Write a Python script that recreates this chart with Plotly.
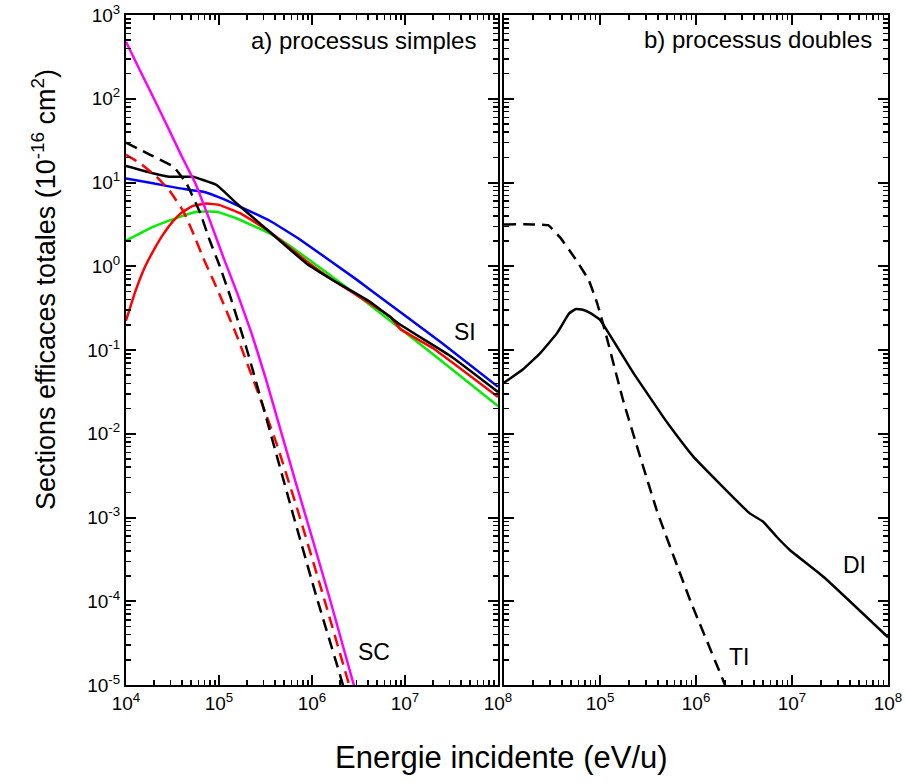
import plotly.graph_objects as go

# ---------------- data (energies in eV/u, cross sections in 1e-16 cm^2) ----------------
# a) single processes
sc_mag_E = [1e4, 1.41e4, 2.0e4, 2.82e4, 3.98e4, 5.62e4, 7.94e4, 1.12e5, 1.58e5, 2.24e5, 3.16e5, 4.53e5, 6.76e5, 1.02e6, 1.58e6, 2.95e6]
sc_mag_S = [479, 219, 100, 45.7, 20.4, 9.55, 3.55, 1.26, 0.468, 0.158, 0.0468, 0.0117, 0.00251, 0.000537, 0.0001, 0.0000083]

sc_blk_E = [1e4, 1.82e4, 3.24e4, 4.47e4, 6.31e4, 7.94e4, 1.02e5, 1.32e5, 2.0e5, 3.55e5, 6.31e5, 1.12e6, 2.0e6, 2.19e6]
sc_blk_S = [29.9, 21.4, 15.5, 9.77, 4.27, 2.04, 1.0, 0.437, 0.1, 0.0105, 0.00105, 0.000112, 0.0000132, 0.0000093]

sc_red_E = [1e4, 1.41e4, 2.14e4, 2.95e4, 4.17e4, 5.25e4, 6.76e4, 8.71e4, 1.12e5, 1.58e5, 2.24e5, 3.16e5, 4.17e5, 7.41e5, 1.35e6, 2.51e6]
sc_red_S = [21.4, 17.0, 11.7, 7.94, 4.47, 2.51, 1.26, 0.676, 0.355, 0.141, 0.0501, 0.0178, 0.00759, 0.001, 0.000107, 0.00001]

si_blk_E = [1e4, 1.95e4, 2.95e4, 5.25e4, 6.76e4, 9.44e4, 1.55e5, 2.75e5, 8.71e5, 1.70e6, 4.17e6, 8.91e6, 3.16e7, 1e8]
si_blk_S = [15.8, 12.9, 11.7, 11.7, 10.7, 9.33, 5.62, 3.24, 1.08, 0.676, 0.380, 0.200, 0.0832, 0.0316]

si_blu_E = [1e4, 1.95e4, 3.80e4, 6.76e4, 1.02e5, 1.70e5, 3.55e5, 7.41e5, 3.02e6, 5.89e6, 2.51e7, 1e8]
si_blu_S = [11.2, 9.77, 8.51, 7.76, 6.61, 5.13, 3.47, 2.09, 0.692, 0.398, 0.120, 0.0363]

si_red_E = [1e4, 1.26e4, 1.58e4, 2.0e4, 2.51e4, 3.16e4, 3.98e4, 5.25e4, 7.41e4, 1.02e5, 1.70e5, 3.55e5, 8.71e5, 1.70e6, 3.89e6, 6.92e6, 8.91e6, 2.0e7, 1e8]
si_red_S = [0.224, 0.501, 0.955, 1.58, 2.40, 3.39, 4.37, 5.25, 5.62, 5.37, 4.27, 2.57, 1.15, 0.676, 0.380, 0.251, 0.178, 0.105, 0.0275]

si_grn_E = [1e4, 1.95e4, 3.80e4, 5.75e4, 9.44e4, 1.55e5, 3.55e5, 5.37e5, 1.26e6, 3.55e6, 2.0e7, 1e8]
si_grn_S = [2.02, 2.95, 3.89, 4.47, 4.47, 3.72, 2.45, 1.86, 0.933, 0.398, 0.0891, 0.0214]

# b) double processes
ti_E = [1e4, 2.0e4, 2.88e4, 3.80e4, 5.50e4, 7.59e4, 9.33e4, 1.12e5, 1.74e5, 3.89e5, 8.71e5, 1.91e6, 2.04e6]
ti_S = [3.16, 3.16, 3.09, 2.24, 1.24, 0.692, 0.363, 0.174, 0.0251, 0.00123, 0.000102, 0.0000115, 0.0000095]

di_E = [1e4, 1.58e4, 2.37e4, 3.55e4, 4.79e4, 5.62e4, 6.61e4, 7.94e4, 1e5, 2.24e5, 4.57e5, 5.37e5, 9.33e5, 1.78e6, 3.63e6, 5.01e6, 6.92e6, 9.55e6, 2.14e7, 1e8]
di_S = [0.0407, 0.0589, 0.0912, 0.158, 0.275, 0.309, 0.302, 0.275, 0.229, 0.0525, 0.0158, 0.0122, 0.00537, 0.00251, 0.00112, 0.000891, 0.000589, 0.000407, 0.000195, 0.0000372]

# tick labels
x_ticks = [1e4, 1e5, 1e6, 1e7, 1e8]
x_text_a = ["10<sup>4</sup>", "10<sup>5</sup>", "10<sup>6</sup>", "10<sup>7</sup>", "10<sup>8</sup>"]
x_text_b = ["", "10<sup>5</sup>", "10<sup>6</sup>", "10<sup>7</sup>", "10<sup>8</sup>"]
y_ticks = [1e-5, 1e-4, 1e-3, 1e-2, 1e-1, 1e0, 1e1, 1e2, 1e3]
y_text = ["10<sup>-5</sup>", "10<sup>-4</sup>", "10<sup>-3</sup>", "10<sup>-2</sup>", "10<sup>-1</sup>",
          "10<sup>0</sup>", "10<sup>1</sup>", "10<sup>2</sup>", "10<sup>3</sup>"]
x_minor = [k * 10.0 ** d for d in range(4, 8) for k in range(2, 10)]
y_minor = [k * 10.0 ** d for d in range(-5, 3) for k in range(2, 10)]

# ---------------- figure ----------------
FONT = "Liberation Sans, Arial, sans-serif"
LW = 2.5
DASH = "12px,7px"

fig = go.Figure()

def add(E, S, color, dash="solid", xa="x", ya="y"):
    fig.add_trace(go.Scatter(x=E, y=S, mode="lines", xaxis=xa, yaxis=ya,
                             line=dict(color=color, width=LW, dash=dash, shape="spline", smoothing=0.3),
                             showlegend=False, hoverinfo="skip"))

add(si_grn_E, si_grn_S, "#00EE00")
add(si_red_E, si_red_S, "#FF0000")
add(si_blu_E, si_blu_S, "#0000FF")
add(si_blk_E, si_blk_S, "#000000")
add(sc_red_E, sc_red_S, "#FF0000", DASH)
add(sc_blk_E, sc_blk_S, "#000000", DASH)
add(sc_mag_E, sc_mag_S, "#FF00FF")

add(ti_E, ti_S, "#000000", DASH, "x2", "y2")
add(di_E, di_S, "#000000", "solid", "x2", "y2")

# empty traces so the minor-tick overlay axes are instantiated
for xa, ya in (("x3", "y3"), ("x4", "y4")):
    fig.add_trace(go.Scatter(x=[], y=[], xaxis=xa, yaxis=ya, showlegend=False, hoverinfo="skip"))

base = dict(type="log", showgrid=False, zeroline=False,
            showline=True, linecolor="black", linewidth=2, mirror="allticks",
            ticks="inside", tickcolor="black", tickmode="array", layer="above traces",
            ticklabeloverflow="allow")
major = dict(base, ticklen=10, tickwidth=2,
             tickfont=dict(family=FONT, size=19, color="black"))
minor = dict(base, ticklen=5, tickwidth=1.5, showticklabels=False)

DOM_A = [0, 0.4882]
DOM_B = [0.4961, 1]

W, H = 905, 783
fig.update_layout(
    width=W, height=H,
    margin=dict(l=126, r=W - 888, t=15, b=H - 685, autoexpand=False),
    paper_bgcolor="white", plot_bgcolor="white",
    hovermode=False,
    xaxis=dict(major, domain=DOM_A, range=[4, 8], tickvals=x_ticks, ticktext=x_text_a, anchor="y"),
    xaxis2=dict(major, domain=DOM_B, range=[4, 8], tickvals=x_ticks, ticktext=x_text_b, anchor="y2"),
    yaxis=dict(major, range=[-5, 3], tickvals=y_ticks, ticktext=y_text, anchor="x"),
    yaxis2=dict(major, range=[-5, 3], tickvals=y_ticks, ticktext=y_text, anchor="x2",
                showticklabels=False),
    xaxis3=dict(minor, domain=DOM_A, range=[4, 8], tickvals=x_minor, anchor="y", overlaying="x"),
    yaxis3=dict(minor, range=[-5, 3], tickvals=y_minor, anchor="x", overlaying="y"),
    xaxis4=dict(minor, domain=DOM_B, range=[4, 8], tickvals=x_minor, anchor="y2", overlaying="x2"),
    yaxis4=dict(minor, range=[-5, 3], tickvals=y_minor, anchor="x2", overlaying="y2"),
)

plot_l, plot_r, plot_t, plot_b = 126, 888, 15, 685

def px_x(p):
    return (p - plot_l) / (plot_r - plot_l)

def px_y(p):
    return (plot_b - p) / (plot_b - plot_t)

ann_font = dict(family=FONT, size=24, color="black")
lab_font = dict(family=FONT, size=23, color="black")
annotations = [
    dict(text="a) processus simples", x=7.79, y=2.70, xref="x", yref="y", xanchor="right", yanchor="middle",
         showarrow=False, font=ann_font),
    dict(text="b) processus doubles", x=7.85, y=2.71, xref="x2", yref="y2", xanchor="right", yanchor="middle",
         showarrow=False, font=ann_font),
    dict(text="SI", x=7.645, y=-0.785, xref="x", yref="y", showarrow=False, font=lab_font),
    dict(text="SC", x=6.667, y=-4.606, xref="x", yref="y", showarrow=False, font=lab_font),
    dict(text="DI", x=7.656, y=-3.567, xref="x2", yref="y2", showarrow=False, font=lab_font),
    dict(text="TI", x=6.448, y=-4.666, xref="x2", yref="y2", showarrow=False, font=lab_font),
    dict(text="Energie incidente (eV/u)", x=px_x(501), y=px_y(757), xref="paper", yref="paper",
         xanchor="center", yanchor="middle", showarrow=False, font=dict(family=FONT, size=31, color="black")),
    dict(text="Sections efficaces totales (10<sup>-16</sup> cm<sup>2</sup>)", x=px_x(44), y=px_y(290),
         xref="paper", yref="paper", xanchor="center", yanchor="middle", textangle=-90, showarrow=False,
         font=dict(family=FONT, size=27, color="black")),
]
fig.update_layout(annotations=annotations)

# remove the default 8px page margin so the figure fills the 905x783 window exactly
fig.write_html("out.html", config={"displayModeBar": False, "staticPlot": True},
               post_script="document.body.style.margin='0';document.body.style.overflow='hidden';")
